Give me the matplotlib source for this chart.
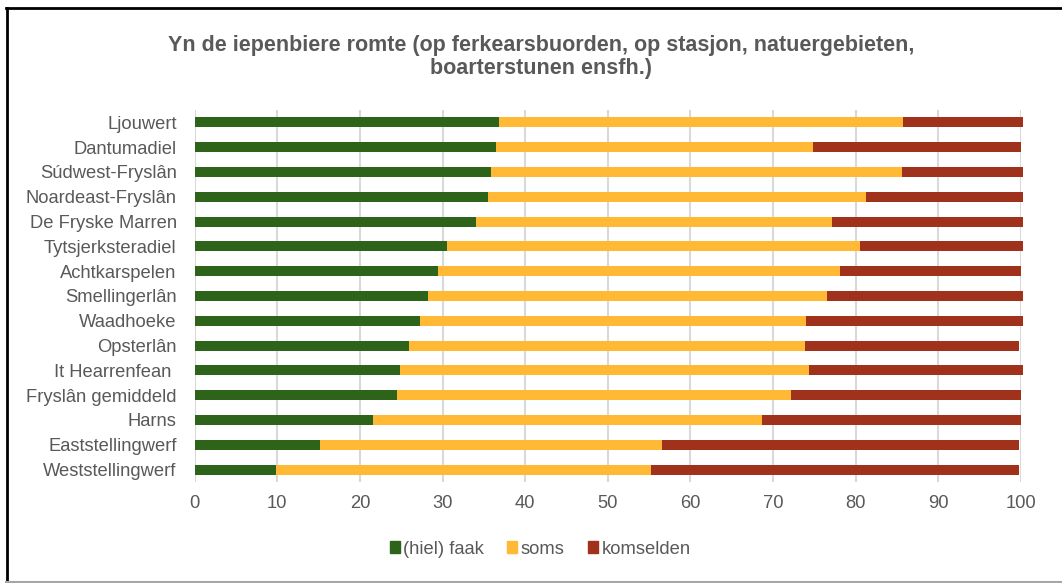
import matplotlib
matplotlib.use("Agg")
import matplotlib.pyplot as plt
from matplotlib.lines import Line2D
from matplotlib.patches import Patch

categories = ["Ljouwert", "Dantumadiel", "Súdwest-Fryslân", "Noardeast-Fryslân",
              "De Fryske Marren", "Tytsjerksteradiel", "Achtkarspelen", "Smellingerlân",
              "Waadhoeke", "Opsterlân", "It Hearrenfean ", "Fryslân gemiddeld",
              "Harns", "Eaststellingwerf", "Weststellingwerf"]
faak = [36.8, 36.5, 35.9, 35.5, 34.0, 30.5, 29.5, 28.2, 27.3, 26.0, 24.8, 24.5, 21.6, 15.2, 9.8]
soms = [49.0, 38.3, 49.7, 45.8, 43.2, 50.1, 48.6, 48.4, 46.7, 47.9, 49.6, 47.7, 47.1, 41.4, 45.4]
komselden = [14.5, 25.2, 14.7, 19.0, 23.1, 19.7, 21.9, 23.7, 26.3, 25.9, 25.9, 27.8, 31.3, 43.2, 44.6]
series_names = ["(hiel) faak", "soms", "komselden"]
colors = ["#2d6419", "#ffb935", "#a0311b"]
xticks = list(range(0, 101, 10))

plt.rcParams['font.family'] = ['Liberation Sans', 'DejaVu Sans']
W, H = 1062, 583
fig = plt.figure(figsize=(W / 100, H / 100), dpi=100)
ax = fig.add_axes([194.7 / W, 1 - 482 / H, (1020.7 - 194.7) / W, (482 - 110) / H])

y = list(range(len(categories)))
left = [0.0] * len(categories)
for vals, name, c in zip([faak, soms, komselden], series_names, colors):
    bars = ax.barh(y, vals, left=left, height=0.4, color=c, label=name, zorder=3)
    for b in bars:
        b.set_clip_on(False)
    left = [l + v for l, v in zip(left, vals)]

ax.set_xlim(0, 100)
ax.set_ylim(len(categories) - 0.5, -0.5)
ax.set_xticks(xticks)
ax.set_yticks(y)
ax.set_yticklabels(categories)
ax.tick_params(axis='both', length=0, labelsize=13.2, colors="#595959")
ax.tick_params(axis='x', pad=9)
ax.tick_params(axis='y', pad=13)
ax.grid(axis='x', color="#d9d9d9", linewidth=1.5, zorder=0)
for s in ax.spines.values():
    s.set_visible(False)

fig.text(541 / W, 1 - 57 / H,
         "Yn de iepenbiere romte (op ferkearsbuorden, op stasjon, natuergebieten,\nboarterstunen ensfh.)",
         ha='center', va='center', fontsize=15.5, fontweight='bold', color="#595959",
         linespacing=1.1)

handles = [Patch(color=c, label=n) for c, n in zip(colors, series_names)]
fig.legend(handles=handles, loc='center', bbox_to_anchor=(540 / W, 1 - 549 / H),
           ncol=3, frameon=False, fontsize=13.2, handlelength=0.55, handleheight=0.55,
           handletextpad=0.2, columnspacing=1.25, labelcolor="#595959")

# outer border
fig.add_artist(Line2D([7 / W, 7 / W], [0, 1 - 7.5 / H], color="black", linewidth=2, transform=fig.transFigure))
fig.add_artist(Line2D([6 / W, 1], [1 - 7.5 / H, 1 - 7.5 / H], color="black", linewidth=2, transform=fig.transFigure))
fig.add_artist(Line2D([6 / W, 1], [1 - 581.5 / H, 1 - 581.5 / H], color="#a6a6a6", linewidth=1.5, transform=fig.transFigure))

fig.savefig("out.png", dpi=100)
